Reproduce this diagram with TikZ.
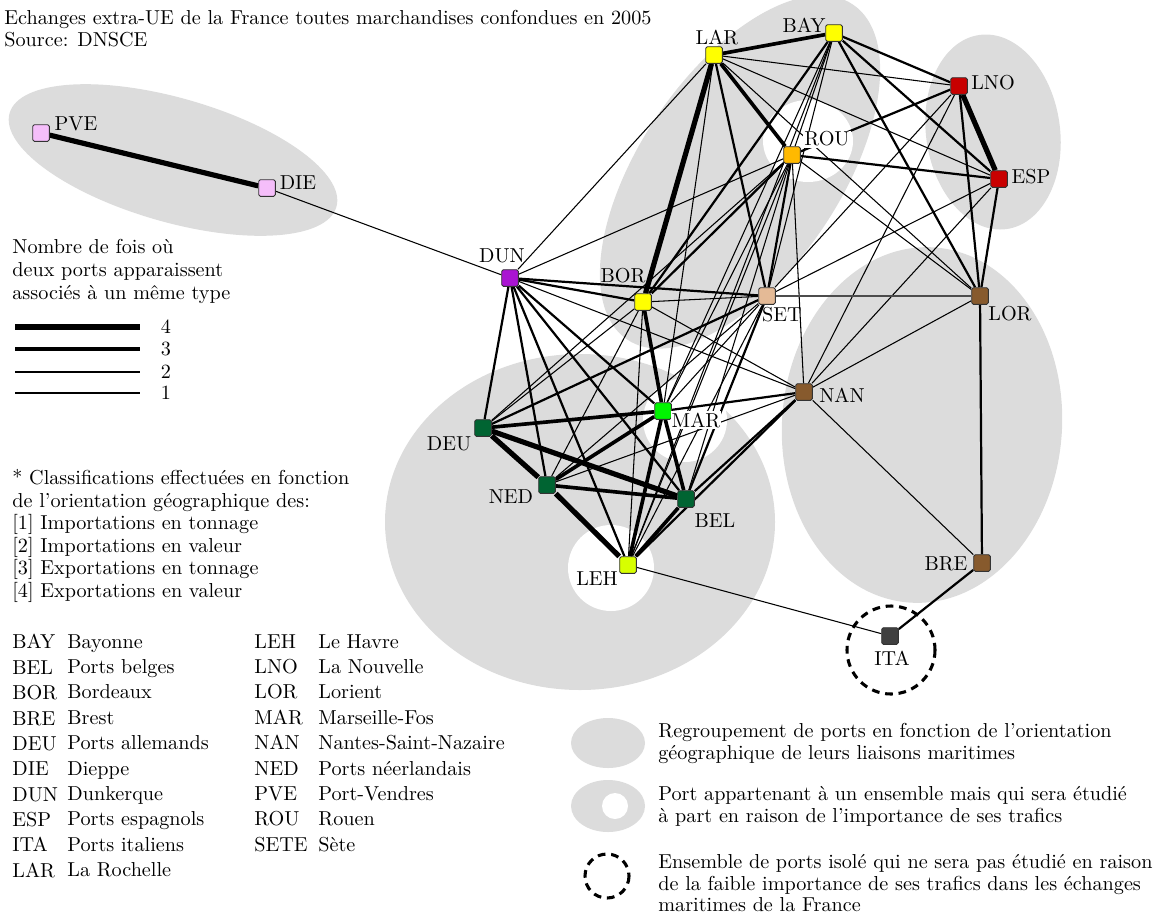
\documentclass[tikz,border=0pt]{standalone}
\usepackage{fontspec}
\pgfdeclarelayer{blobs}
\pgfdeclarelayer{links}
\pgfsetlayers{blobs,links,main}
\definecolor{blobgray}{RGB}{220,220,220}
\definecolor{cpink}{RGB}{245,190,250}
\definecolor{cpurple}{RGB}{170,20,210}
\definecolor{cyellow}{RGB}{255,255,0}
\definecolor{corange}{RGB}{255,185,0}
\definecolor{cred}{RGB}{200,0,0}
\definecolor{ctan}{RGB}{228,186,150}
\definecolor{cbrown}{RGB}{135,90,45}
\definecolor{cgreen}{RGB}{0,245,0}
\definecolor{cdkgreen}{RGB}{0,100,50}
\definecolor{clime}{RGB}{215,255,0}
\definecolor{cdark}{RGB}{64,64,64}
\begin{document}
\begin{tikzpicture}[x=0.52pt, y=-0.52pt, every node/.style={font=\fontsize{10.5}{12}\selectfont},
  port/.style={draw=black!80, line width=0.5pt, rounded corners=0.8pt, minimum size=8.6pt, inner sep=0pt},
  lbl/.style={inner sep=0.6pt},
  lblw/.style={lbl, fill=white},
  txt/.style={align=left, anchor=north west, inner sep=0pt},
  w1/.style={line width=0.55pt},
  w2/.style={line width=1.15pt},
  w3/.style={line width=1.9pt},
  w4/.style={line width=2.7pt},
  isle/.style={line width=1.6pt, dash pattern=on 4pt off 3pt}]
  \useasboundingbox (0,0) rectangle (1155,920);

  \begin{pgfonlayer}{blobs}
    \fill[blobgray, rotate around={-16:(173,160)}] (173,160) ellipse [x radius=170, y radius=62];
    \fill[blobgray, rotate around={56:(740,172)}] (740,172) ellipse [x radius=202, y radius=100];
    \fill[white] (808,141) ellipse [x radius=45, y radius=41];
    \fill[blobgray, rotate around={8:(993,132)}] (993,132) ellipse [x radius=67, y radius=98];
    \fill[blobgray, rotate around={-4:(922,425)}] (922,425) ellipse [x radius=140, y radius=178];
    \fill[blobgray] (580,522) ellipse [x radius=195, y radius=168];
    \fill[white] (685,420) circle [radius=42];
    \fill[white] (611,568) circle [radius=43];
    \fill[blobgray] (608,743) ellipse [x radius=37, y radius=25];
    \fill[blobgray] (608,806) ellipse [x radius=37, y radius=26];
    \fill[white] (615,806) circle [radius=13];
  \end{pgfonlayer}
  \draw[isle] (891,650) circle [radius=44];
  \draw[isle] (607,876) circle [radius=22];

  \node[port, fill=cpink] (pve) at (41,133) {};
  \node[port, fill=cpink] (die) at (267,188) {};
  \node[port, fill=cpurple] (dun) at (510,278) {};
  \node[port, fill=cyellow] (lar) at (714,55) {};
  \node[port, fill=cyellow] (bay) at (834,33) {};
  \node[port, fill=cyellow] (bor) at (643,302) {};
  \node[port, fill=corange] (rou) at (792,155) {};
  \node[port, fill=cred] (lno) at (959,86) {};
  \node[port, fill=cred] (esp) at (999,179) {};
  \node[port, fill=ctan] (set) at (767,296) {};
  \node[port, fill=cbrown] (lor) at (980,296) {};
  \node[port, fill=cbrown] (nan) at (804,392) {};
  \node[port, fill=cbrown] (bre) at (982,563) {};
  \node[port, fill=cgreen] (mar) at (663,411) {};
  \node[port, fill=cdkgreen] (deu) at (483,428) {};
  \node[port, fill=cdkgreen] (ned) at (547,485) {};
  \node[port, fill=cdkgreen] (bel) at (686,499) {};
  \node[port, fill=clime] (leh) at (628,565) {};
  \node[port, fill=cdark] (ita) at (890,636) {};

  \node[lbl] (pveL) at (76,124) {PVE};
  \node[lbl] (dieL) at (298,183) {DIE};
  \node[lbl] (dunL) at (502,256) {DUN};
  \node[lbl] (larL) at (717,37) {LAR};
  \node[lbl] (bayL) at (804,25) {BAY};
  \node[lblw] (rouL) at (827,139) {ROU};
  \node[lbl] (lnoL) at (993,83) {LNO};
  \node[lbl] (espL) at (1031,177) {ESP};
  \node[lbl] (borL) at (623,276) {BOR};
  \node[lbl] (setL) at (782,315) {SET};
  \node[lbl] (lorL) at (1010,314) {LOR};
  \node[lbl] (nanL) at (842,395) {NAN};
  \node[lblw] (marL) at (696,420) {MAR};
  \node[lbl] (deuL) at (449,444) {DEU};
  \node[lbl] (nedL) at (511,497) {NED};
  \node[lbl] (belL) at (715,521) {BEL};
  \node[lblw] (lehL) at (597,579) {LEH};
  \node[lbl] (breL) at (946,564) {BRE};
  \node[lbl] (itaL) at (892,658) {ITA};

  \begin{pgfonlayer}{links}
    \draw[w4] (pve) -- (die);
    \draw[w1] (die) -- (dun);
    \draw[w1] (dun) -- (lar);
    \draw[w1] (dun) -- (rou);
    \draw[w2] (dun) -- (bor);
    \draw[w2] (dun) -- (set);
    \draw[w1] (dun) -- (nan);
    \draw[w2] (dun) -- (deu);
    \draw[w2] (dun) -- (ned);
    \draw[w2] (dun) -- (leh);
    \draw[w2] (dun) -- (bel);
    \draw[w2] (dun) -- (mar);
    \draw[w3] (lar) -- (bay);
    \draw[w4] (lar) -- (bor);
    \draw[w3] (lar) -- (rou);
    \draw[w1] (lar) -- (lno);
    \draw[w1] (lar) -- (esp);
    \draw[w1] (lar) -- (lor);
    \draw[w2] (lar) -- (set);
    \draw[w1] (lar) -- (mar);
    \draw[w2] (bay) -- (lno);
    \draw[w2] (bay) -- (esp);
    \draw[w2] (bay) -- (lor);
    \draw[w2] (bay) -- (bor);
    \draw[w1] (bay) -- (rou);
    \draw[w1] (bay) -- (set);
    \draw[w1] (bay) -- (mar);
    \draw[w1] (bay) -- (leh);
    \draw[w4] (lno) -- (esp);
    \draw[w2] (lno) -- (rou);
    \draw[w2] (lno) -- (lor);
    \draw[w1] (lno) -- (set);
    \draw[w1] (lno) -- (nan);
    \draw[w2] (esp) -- (rou);
    \draw[w2] (esp) -- (lor);
    \draw[w1] (esp) -- (set);
    \draw[w1] (esp) -- (nan);
    \draw[w2] (rou) -- (bor);
    \draw[w2] (rou) -- (set);
    \draw[w1] (rou) -- (lor);
    \draw[w1] (rou) -- (mar);
    \draw[w1] (rou) -- (deu);
    \draw[w1] (rou) -- (bel);
    \draw[w1] (rou) -- (leh);
    \draw[w1] (rou) -- (nan);
    \draw[w1] (bor) -- (set);
    \draw[w3] (bor) -- (mar);
    \draw[w1] (bor) -- (nan);
    \draw[w1] (bor) -- (deu);
    \draw[w1] (bor) -- (ned);
    \draw[w1] (bor) -- (leh);
    \draw[w2, black!70] (set) -- (lor);
    \draw[w2] (set) -- (deu);
    \draw[w1] (set) -- (ned);
    \draw[w1] (set) -- (mar);
    \draw[w2] (set) -- (bel);
    \draw[w1] (set) -- (leh);
    \draw[w2] (nan) -- (mar);
    \draw[w1] (nan) -- (ned);
    \draw[w2] (nan) -- (bel);
    \draw[w2] (nan) -- (leh);
    \draw[w1] (nan) -- (lor);
    \draw[w1] (nan) -- (bre);
    \draw[w2] (lor) -- (bre);
    \draw[w2] (bre) -- (ita);
    \draw[w1] (leh) -- (ita);
    \draw[w3] (mar) -- (deu);
    \draw[w3] (mar) -- (ned);
    \draw[w3] (mar) -- (bel);
    \draw[w3] (mar) -- (leh);
    \draw[w4] (deu) -- (ned);
    \draw[w4] (deu) -- (bel);
    \draw[w3] (ned) -- (bel);
    \draw[w4] (ned) -- (leh);
    \draw[w3] (bel) -- (leh);
  \end{pgfonlayer}

  \node[txt, font=\fontsize{10.5}{11.4}\selectfont] (title) at (4,10) {Echanges extra-UE de la France toutes marchandises confondues en 2005\\Source: DNSCE};
  \node[txt, font=\fontsize{10.5}{11.8}\selectfont] (widthText) at (12,239) {Nombre de fois où\\deux ports apparaissent\\associés à un même type};
  \coordinate (k4a) at (15,327); \coordinate (k4b) at (140,327);
  \coordinate (k3a) at (15,349); \coordinate (k3b) at (140,349);
  \coordinate (k2a) at (15,372); \coordinate (k2b) at (140,372);
  \coordinate (k1a) at (15,393); \coordinate (k1b) at (140,393);
  \draw[w4] (k4a) -- (k4b);
  \draw[w3] (k3a) -- (k3b);
  \draw[w2] (k2a) -- (k2b);
  \draw[w1] (k1a) -- (k1b);
  \node (k4) at (166,327) {4};
  \node (k3) at (166,349) {3};
  \node (k2) at (166,372) {2};
  \node (k1) at (166,393) {1};
  \node[txt, font=\fontsize{10.5}{11.7}\selectfont] (classText) at (12,469) {* Classifications effectuées en fonction\\de l'orientation géographique des:\\{}[1] Importations en tonnage\\{}[2] Importations en valeur\\{}[3] Exportations en tonnage\\{}[4] Exportations en valeur};
  \node[txt, font=\fontsize{10.5}{13.2}\selectfont] (codesA) at (12,634) {BAY\\BEL\\BOR\\BRE\\DEU\\DIE\\DUN\\ESP\\ITA\\LAR};
  \node[txt, font=\fontsize{10.5}{13.2}\selectfont] (namesA) at (67,634) {Bayonne\\Ports belges\\Bordeaux\\Brest\\Ports allemands\\Dieppe\\Dunkerque\\Ports espagnols\\Ports italiens\\La Rochelle};
  \node[txt, font=\fontsize{10.5}{13.2}\selectfont] (codesB) at (254,634) {LEH\\LNO\\LOR\\MAR\\NAN\\NED\\PVE\\ROU\\SETE};
  \node[txt, font=\fontsize{10.5}{13.2}\selectfont] (namesB) at (318,634) {Le Havre\\La Nouvelle\\Lorient\\Marseille-Fos\\Nantes-Saint-Nazaire\\Ports néerlandais\\Port-Vendres\\Rouen\\Sète};
  \node[txt, font=\fontsize{10.5}{11.2}\selectfont] (keyGroup) at (658,723) {Regroupement de ports en fonction de l'orientation\\géographique de leurs liaisons maritimes};
  \node[txt, font=\fontsize{10.5}{11.2}\selectfont] (keyApart) at (658,786) {Port appartenant à un ensemble mais qui sera étudié\\à part en raison de l'importance de ses trafics};
  \node[txt, font=\fontsize{10.5}{11.2}\selectfont] (keyIsle) at (658,854) {Ensemble de ports isolé qui ne sera pas étudié en raison\\de la faible importance de ses trafics dans les échanges\\maritimes de la France};
\end{tikzpicture}
\end{document}
